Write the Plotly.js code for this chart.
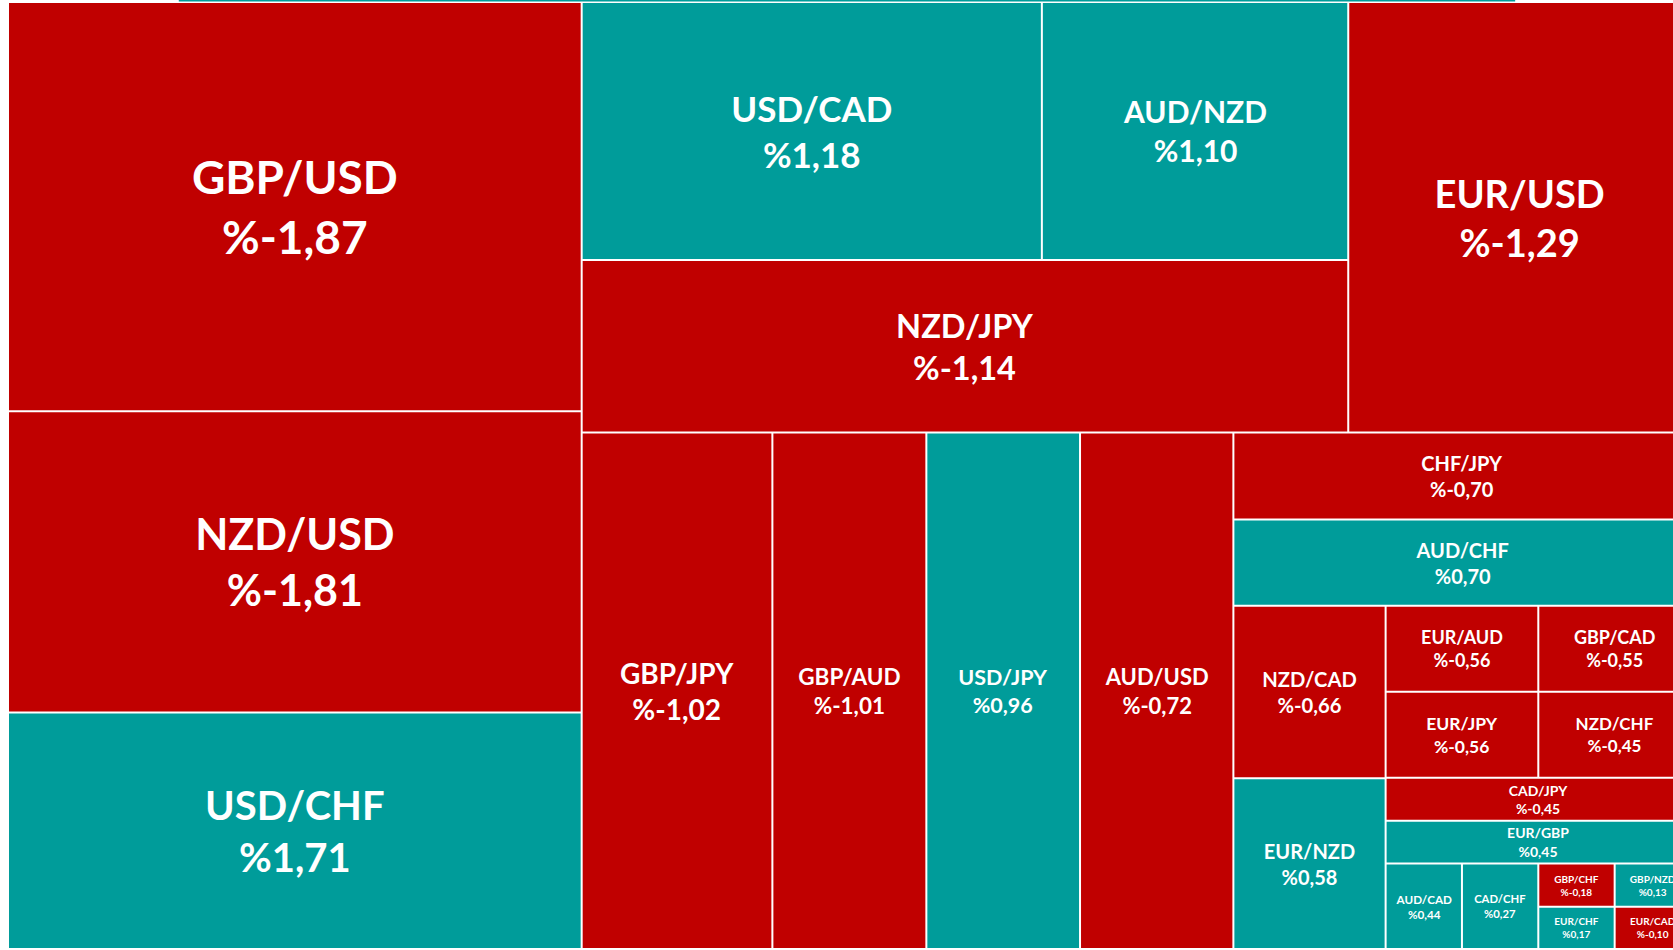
<!DOCTYPE html>
<html>
<head>
<meta charset="utf-8">
<script src="https://cdn.plot.ly/plotly-3.0.1.min.js"></script>
<style>
html, body { margin: 0; padding: 0; overflow: hidden; background: #ffffff; }
#chart { width: 1700px; height: 950px; }
</style>
</head>
<body>
<div id="chart"></div>
<script>
// ---- data ----
const pairs = ["GBP/USD","NZD/USD","USD/CHF","USD/CAD","AUD/NZD","NZD/JPY","EUR/USD",
  "GBP/JPY","GBP/AUD","USD/JPY","AUD/USD","CHF/JPY","AUD/CHF","NZD/CAD","EUR/NZD",
  "EUR/AUD","EUR/JPY","GBP/CAD","NZD/CHF","CAD/JPY","EUR/GBP","AUD/CAD","CAD/CHF",
  "GBP/CHF","EUR/CHF","GBP/NZD","EUR/CAD"];
const changes = [-1.87,-1.81,1.71,1.18,1.10,-1.14,-1.29,
  -1.02,-1.01,0.96,-0.72,-0.70,0.70,-0.66,0.58,
  -0.56,-0.56,-0.55,-0.45,-0.45,0.45,0.44,0.27,
  -0.18,0.17,0.13,-0.10];
// tile sizes (relative areas)
const weights = [147.3,108.5,85.1,74.5,49.6,83.0,92.6,
  61.8,49.9,49.8,49.7,25.0,24.7,16.5,16.3,
  8.25,8.25,8.25,8.25,8.2,8.2,4.1,4.1,
  2.07,2.03,2.07,2.03];
// grouping of tiles (block structure of the map)
const leafGroup = ["A","A","A","B1a1","B1a1","B1a","B1",
  "B2","B2","B2","B2","C","C","D1","D1",
  "E1","E1","E2","E2","D2","D2","F","F",
  "G1","G1","G2","G2"];
const groupIds     = ["root","A","B","B1","B1a","B1a1","B2","C","D","D1","D2","E","E1","E2","F","G1","G2"];
const groupParents = ["",    "root","root","B","B1","B1a","B","B2","C","D","D","D2","E","E","D2","F","F"];
// label font sizes per tile
const labelSizes = [46,43,40,35,30,32.5,38,
  28,22.5,21.5,22,20,20,20.2,20,
  18,17.5,18,17,16,15.2,11.7,11.3,
  10,10,10,10];

const RED = "#C00000", TEAL = "#009C9A";

// ---- build node table (pre-order so sibling order is kept) ----
const ids = [], labels = [], parents = [], values = [], colors = [], custom = [], tmpl = [], sizes = [];
const emitted = {};
function groupParent(g) { return groupParents[groupIds.indexOf(g)]; }
function emitGroup(g) {
  if (emitted[g]) return;
  const p = groupParent(g);
  if (p) emitGroup(p);
  emitted[g] = true;
  ids.push(g); labels.push(g); parents.push(p); values.push(0);
  colors.push("#ffffff"); custom.push(""); tmpl.push(" "); sizes.push(10);
}
pairs.forEach((name, i) => {
  emitGroup(leafGroup[i]);
  ids.push(name); labels.push(name); parents.push(leafGroup[i]); values.push(weights[i]);
  colors.push(changes[i] < 0 ? RED : TEAL);
  custom.push("%" + changes[i].toFixed(2).replace(".", ","));
  tmpl.push("<b>%{label}</b><br><b>%{customdata}</b>");
  sizes.push(labelSizes[i]);
});

const FONT = "Lato, 'Open Sans', sans-serif";
const trace = {
  type: "treemap",
  ids: ids, labels: labels, parents: parents, values: values,
  branchvalues: "remainder",
  sort: false,
  tiling: { packing: "slice-dice", pad: 2 },
  marker: { colors: colors, line: { width: 0 }, pad: { t: 0, l: 0, r: 0, b: 0 }, depthfade: false },
  leaf: { opacity: 1 },
  pathbar: { visible: false },
  customdata: custom,
  texttemplate: tmpl,
  textposition: "middle center",
  textfont: { family: FONT, size: sizes, color: "#ffffff" },
  insidetextfont: { family: FONT, size: sizes, color: "#ffffff" },
  hoverinfo: "skip"
};

const layout = {
  width: 1700, height: 950,
  margin: { l: 9, r: 10, t: 3, b: 2, pad: 0 },
  paper_bgcolor: "#ffffff",
  showlegend: false,
  shapes: [{
    type: "line", xref: "paper", yref: "paper",
    x0: 0.101, x1: 0.896, y0: 1.0024, y1: 1.0024,
    line: { color: TEAL, width: 1.5 }
  }]
};

Plotly.newPlot("chart", [trace], layout, { displayModeBar: false, staticPlot: true });
</script>
</body>
</html>
